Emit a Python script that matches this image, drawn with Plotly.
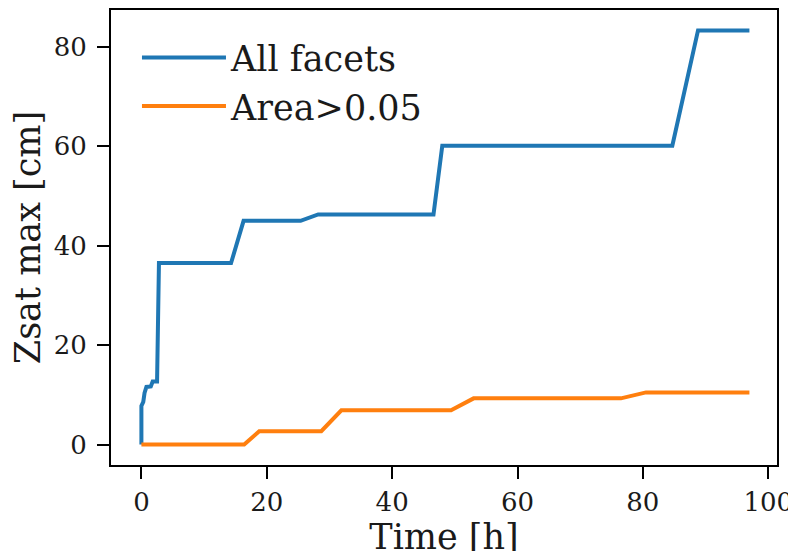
import plotly.graph_objects as go

# Data
time_all = [0, 0, 0.3, 0.5, 0.8, 1.5, 1.8, 2.5, 2.8, 14.3, 16.3, 25.4, 28.2, 46.6, 48.0, 84.7, 88.8, 97.0]
zsat_all = [0, 7.8, 8.6, 10.4, 11.6, 11.7, 12.7, 12.7, 36.5, 36.5, 45.0, 45.0, 46.3, 46.3, 60.1, 60.1, 83.3, 83.3]

time_big = [0, 16.4, 18.8, 28.7, 31.9, 49.4, 53.0, 76.5, 80.5, 97.0]
zsat_big = [0, 0, 2.7, 2.7, 6.9, 6.9, 9.3, 9.3, 10.5, 10.5]

labels = ["All facets", "Area>0.05"]
colors = ["#1f77b4", "#ff7f0e"]

xticks = [0, 20, 40, 60, 80, 100]
yticks = [0, 20, 40, 60, 80]

FONT = "DejaVu Serif"

fig = go.Figure()
fig.add_trace(go.Scatter(x=time_all, y=zsat_all, mode="lines", name=labels[0],
                         line=dict(color=colors[0], width=4)))
fig.add_trace(go.Scatter(x=time_big, y=zsat_big, mode="lines", name=labels[1],
                         line=dict(color=colors[1], width=4)))

axis_common = dict(
    showline=True, linecolor="black", linewidth=2, mirror=True,
    ticks="outside", ticklen=12, tickwidth=2, tickcolor="black",
    showgrid=False, zeroline=False, automargin=False,
    tickfont=dict(family=FONT, size=26, color="#1a1a1a"),
)

fig.update_layout(
    width=796, height=551,
    margin=dict(l=103, r=27, t=2, b=94),
    plot_bgcolor="white", paper_bgcolor="white",
    font=dict(family=FONT, color="#1a1a1a"),
    xaxis=dict(range=[-4.85, 101.4], tickvals=xticks, ticklabelstandoff=1,
               title=dict(text="Time [h]", font=dict(family=FONT, size=35), standoff=0),
               **axis_common),
    yaxis=dict(range=[-4.1, 87.4], tickvals=yticks, ticklabelstandoff=5,
               title=dict(text="Zsat max [cm]", font=dict(family=FONT, size=35), standoff=2),
               **axis_common),
    legend=dict(x=0.039, y=0.96, xanchor="left", yanchor="top",
                font=dict(family=FONT, size=35, color="#1a1a1a"),
                bgcolor="rgba(0,0,0,0)", itemwidth=84, tracegroupgap=0),
    showlegend=True,
)

fig.write_html("out.html")
